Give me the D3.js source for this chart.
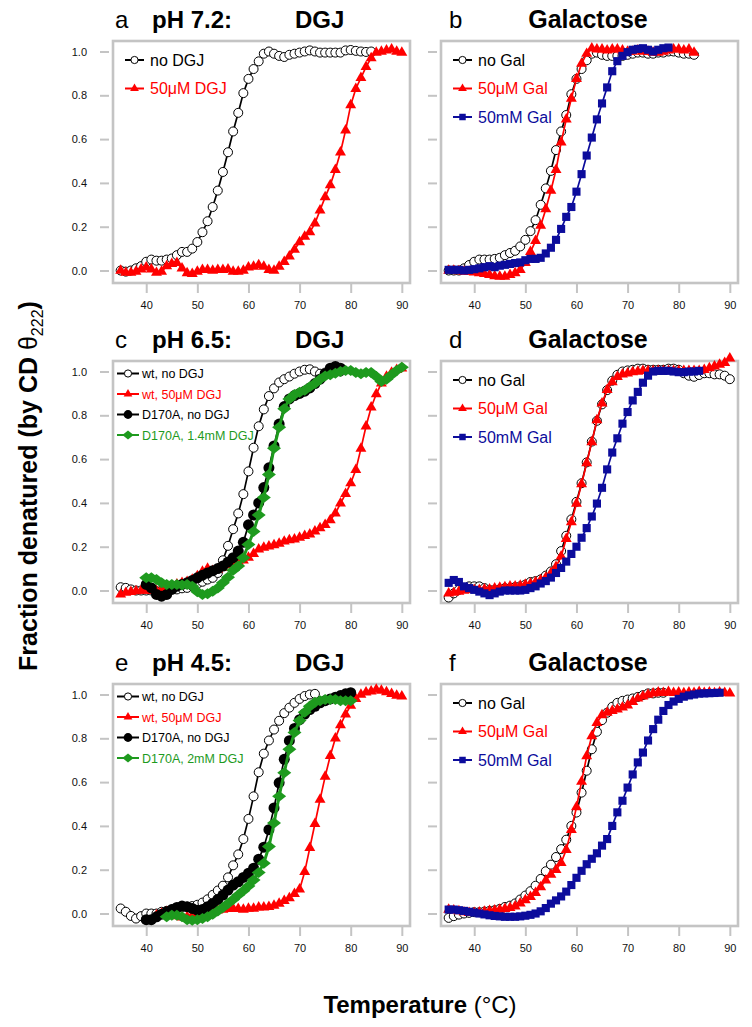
<!DOCTYPE html>
<html>
<head>
<meta charset="utf-8">
<script src="https://cdn.jsdelivr.net/npm/d3@7"></script>
<style>
  body { margin: 0; background: #fff; }
  text { font-family: "Liberation Sans", Arial, Helvetica, sans-serif; }
</style>
</head>
<body>
<div id="chart"></div>
<script>
// ---- data: fraction denatured, one value per degree from the start temperature ----
// a: pH 7.2, DGJ
const aStart = [35, 35];
const aNoDGJ = [0.0, -0.005, 0.0, 0.01, 0.02, 0.04, 0.05, 0.045, 0.045, 0.05,
  0.055, 0.07, 0.085, 0.085, 0.1, 0.13, 0.175, 0.225, 0.29, 0.365,
  0.45, 0.54, 0.635, 0.72, 0.81, 0.875, 0.92, 0.955, 0.99, 1.0,
  0.99, 0.98, 0.975, 0.985, 0.99, 0.995, 1.0, 1.005, 1.0, 0.995,
  0.995, 0.995, 0.995, 0.995, 1.005, 1.007, 1.003, 1.0, 0.998, 1.0];
const a50uM = [0.0, -0.01, -0.01, -0.005, 0.005, 0.015, 0.005, -0.01, -0.005, 0.02,
  0.03, 0.035, 0.01, -0.012, -0.015, -0.005, 0.003, 0.003, 0.0, 0.003,
  0.003, 0.005, -0.005, -0.005, 0.0, 0.015, 0.018, 0.025, 0.018, 0.003,
  0.0, 0.018, 0.04, 0.065, 0.095, 0.13, 0.155, 0.175, 0.215, 0.275,
  0.335, 0.39, 0.46, 0.54, 0.64, 0.755, 0.83, 0.88, 0.93, 0.97,
  0.995, 1.0, 1.005, 1.01, 1.0, 0.995];

// b: pH 7.2, galactose
const bStart = [35, 35, 35];
const bNoGal = [0.0, 0.0, 0.0, 0.01, 0.025, 0.04, 0.05, 0.05, 0.05, 0.053,
  0.058, 0.07, 0.08, 0.09, 0.11, 0.14, 0.18, 0.23, 0.3, 0.375,
  0.455, 0.55, 0.635, 0.71, 0.805, 0.875, 0.92, 0.96, 0.99, 0.995,
  0.985, 0.98, 0.98, 0.98, 0.98, 0.985, 0.99, 0.995, 0.995, 0.99,
  0.99, 0.995, 0.995, 1.0, 1.0, 0.995, 0.99, 0.99, 0.985];
const b50uM = [0.0, 0.0, -0.003, -0.005, -0.005, -0.008, -0.012, -0.015, -0.02, -0.025,
  -0.028, -0.028, -0.02, -0.012, 0.003, 0.035, 0.085, 0.135, 0.205, 0.28,
  0.365, 0.46, 0.585, 0.69, 0.785, 0.875, 0.945, 0.99, 1.015, 1.01,
  1.01, 1.005, 1.01, 1.01, 1.005, 1.0, 1.0, 1.005, 1.0, 1.0,
  0.995, 0.995, 1.0, 1.005, 1.01, 1.01, 1.005, 1.01, 0.995];
const b50mM = [0.003, 0.003, 0.003, 0.0, 0.003, 0.006, 0.01, 0.015, 0.02, 0.015,
  0.022, 0.026, 0.03, 0.034, 0.037, 0.047, 0.053, 0.053, 0.058, 0.078,
  0.104, 0.14, 0.19, 0.245, 0.29, 0.36, 0.44, 0.525, 0.607, 0.69,
  0.763, 0.836, 0.91, 0.956, 0.98, 0.997, 1.008, 1.012, 1.015, 1.008,
  1.0, 1.008, 1.015, 1.018];

// c: pH 6.5, DGJ
const cStart = [35, 35, 40, 40];
const cWtNo = [0.015, 0.012, 0.005, 0.0, 0.0, 0.0, 0.0, -0.003, 0.0, 0.005,
  0.009, 0.005, 0.01, 0.012, 0.02, 0.03, 0.04, 0.05, 0.058, 0.08,
  0.138, 0.204, 0.28, 0.352, 0.44, 0.544, 0.652, 0.75, 0.827, 0.888,
  0.923, 0.95, 0.965, 0.977, 0.99, 1.0, 1.008, 1.01, 1.0, 0.99,
  0.995, 1.0, 1.0, 1.0];
const cWt50uM = [-0.018, -0.01, -0.006, -0.003, 0.0, 0.0, 0.0, -0.003, 0.005, 0.012,
  0.02, 0.028, 0.035, 0.04, 0.05, 0.066, 0.086, 0.1, 0.09, 0.097,
  0.104, 0.116, 0.122, 0.132, 0.138, 0.15, 0.168, 0.188, 0.196, 0.202,
  0.208, 0.214, 0.224, 0.23, 0.234, 0.242, 0.25, 0.257, 0.27, 0.285,
  0.3, 0.322, 0.352, 0.398, 0.441, 0.49, 0.551, 0.648, 0.75, 0.836,
  0.897, 0.946, 0.977, 0.995, 1.008, 1.015];
const cD170ANo = [0.028, 0.012, -0.018, -0.026, -0.018, 0.005, 0.02, 0.028, 0.035, 0.046,
  0.058, 0.07, 0.08, 0.09, 0.1, 0.112, 0.13, 0.15, 0.18, 0.22,
  0.3, 0.345, 0.4, 0.47, 0.56, 0.66, 0.76, 0.84, 0.875, 0.89,
  0.9, 0.91, 0.925, 0.945, 0.965, 0.99, 1.015, 1.023, 1.015];
const cD170A14mM = [0.058, 0.058, 0.05, 0.035, 0.028, 0.028, 0.028, 0.025, 0.028, 0.02,
  -0.006, -0.018, -0.015, -0.003, 0.012, 0.035, 0.061, 0.092, 0.112, 0.15,
  0.21, 0.27, 0.345, 0.425, 0.53, 0.65, 0.745, 0.83, 0.875, 0.895,
  0.905, 0.915, 0.93, 0.945, 0.965, 0.98, 0.985, 0.992, 1.0, 1.005,
  1.005, 0.995, 0.99, 0.995, 0.995, 0.977, 0.954, 0.965, 0.985, 1.005,
  1.02];

// d: pH 6.5, galactose
const dStart = [35, 35, 35];
const dNoGal = [-0.032, -0.013, 0.003, 0.011, 0.019, 0.019, 0.019, 0.011, 0.003, 0.003,
  0.006, 0.011, 0.011, 0.016, 0.019, 0.027, 0.039, 0.043, 0.051, 0.068,
  0.087, 0.12, 0.18, 0.25, 0.325, 0.405, 0.49, 0.585, 0.68, 0.775,
  0.85, 0.915, 0.958, 0.985, 1.0, 1.005, 1.008, 1.013, 1.013, 1.008,
  1.008, 1.008, 1.008, 1.013, 1.013, 1.008, 0.992, 0.981, 0.976, 0.984,
  0.992, 0.992, 0.987, 0.987, 0.981, 0.965];
const d50uM = [-0.013, -0.01, -0.005, 0.0, 0.003, 0.003, 0.003, 0.006, 0.006, 0.01,
  0.013, 0.016, 0.019, 0.019, 0.022, 0.027, 0.032, 0.039, 0.048, 0.059,
  0.08, 0.108, 0.156, 0.236, 0.312, 0.397, 0.486, 0.582, 0.678, 0.778,
  0.855, 0.916, 0.952, 0.976, 0.987, 0.992, 0.997, 1.0, 1.003, 1.003,
  1.003, 1.003, 1.003, 1.003, 1.003, 1.003, 1.003, 1.003, 1.003, 1.003,
  1.008, 1.016, 1.024, 1.032, 1.04, 1.06];
const d50mM = [0.035, 0.048, 0.039, 0.019, 0.011, 0.003, -0.005, -0.013, -0.021, -0.013,
  -0.005, 0.0, 0.0, 0.0, 0.0, 0.003, 0.011, 0.019, 0.032, 0.043,
  0.059, 0.08, 0.103, 0.132, 0.167, 0.2, 0.241, 0.285, 0.338, 0.397,
  0.469, 0.553, 0.63, 0.695, 0.762, 0.815, 0.868, 0.907, 0.949, 0.981,
  1.0, 1.003, 1.003, 1.003, 1.0, 0.997, 0.997, 1.0, 1.0, 1.003];

// e: pH 4.5, DGJ
const eStart = [35, 42, 40, 44];
const eWtNo = [0.023, 0.008, -0.011, -0.023, -0.012, 0.0, 0.0, 0.0, 0.008, 0.012,
  0.018, 0.023, 0.028, 0.031, 0.034, 0.04, 0.05, 0.065, 0.085, 0.105,
  0.127, 0.165, 0.22, 0.27, 0.34, 0.432, 0.535, 0.645, 0.73, 0.79,
  0.84, 0.88, 0.915, 0.94, 0.962, 0.98, 0.993, 1.0, 1.003];
const eWt50uM = [-0.008, 0.0, 0.008, -0.003, -0.012, -0.018, -0.015, -0.008, -0.003, 0.003,
  0.008, 0.012, 0.015, 0.018, 0.021, 0.023, 0.021, 0.018, 0.023, 0.023,
  0.028, 0.028, 0.031, 0.036, 0.045, 0.058, 0.07, 0.09, 0.11, 0.19,
  0.3, 0.41, 0.52, 0.625, 0.72, 0.8, 0.86, 0.91, 0.95, 0.98,
  1.0, 1.01, 1.014, 1.023, 1.018, 1.011, 1.003, 0.995, 0.992];
const eD170ANo = [-0.028, -0.028, -0.015, -0.003, 0.008, 0.018, 0.028, 0.034, 0.031, 0.023,
  0.015, 0.018, 0.031, 0.046, 0.064, 0.084, 0.107, 0.13, 0.145, 0.165,
  0.184, 0.207, 0.248, 0.303, 0.383, 0.482, 0.597, 0.704, 0.789, 0.845,
  0.885, 0.911, 0.931, 0.946, 0.962, 0.972, 0.98, 0.988, 0.995, 1.003,
  1.008];
const eD170A2mM = [-0.015, -0.008, -0.008, -0.015, -0.028, -0.031, -0.028, -0.023, -0.015, -0.003,
  0.012, 0.028, 0.046, 0.064, 0.084, 0.104, 0.126, 0.153, 0.187, 0.23,
  0.306, 0.413, 0.536, 0.643, 0.75, 0.827, 0.881, 0.919, 0.946, 0.965,
  0.972, 0.977, 0.977, 0.977, 0.972, 0.972, 0.972];

// f: pH 4.5, galactose
const fStart = [35, 35, 35];
const fNoGal = [-0.02, -0.012, -0.005, 0.0, 0.003, 0.006, 0.006, 0.009, 0.012, 0.015,
  0.021, 0.03, 0.036, 0.046, 0.064, 0.082, 0.102, 0.127, 0.158, 0.193,
  0.223, 0.258, 0.294, 0.337, 0.4, 0.461, 0.552, 0.652, 0.75, 0.83,
  0.883, 0.917, 0.944, 0.962, 0.971, 0.977, 0.982, 0.989, 0.997, 1.005,
  1.005, 1.008, 1.008];
const f50uM = [0.018, 0.015, 0.011, 0.006, 0.003, 0.003, 0.006, 0.009, 0.012, 0.015,
  0.018, 0.021, 0.026, 0.033, 0.046, 0.061, 0.076, 0.094, 0.121, 0.152,
  0.178, 0.2, 0.231, 0.291, 0.382, 0.486, 0.602, 0.719, 0.81, 0.871,
  0.906, 0.917, 0.926, 0.932, 0.941, 0.951, 0.967, 0.982, 0.992, 1.0,
  1.005, 1.01, 1.008, 1.012, 1.008, 1.01, 1.006, 1.01, 1.008, 1.012,
  1.008, 1.01, 1.006, 1.01, 1.008, 1.005];
const f50mM = [0.018, 0.018, 0.015, 0.012, 0.008, 0.004, 0.0, -0.004, -0.008, -0.011,
  -0.013, -0.015, -0.015, -0.015, -0.013, -0.01, -0.006, 0.0, 0.01, 0.025,
  0.045, 0.06, 0.078, 0.1, 0.13, 0.163, 0.195, 0.225, 0.25, 0.275,
  0.31, 0.34, 0.4, 0.462, 0.515, 0.575, 0.635, 0.69, 0.735, 0.79,
  0.842, 0.885, 0.925, 0.952, 0.968, 0.98, 0.99, 0.996, 1.0, 1.004,
  1.005, 1.006, 1.007, 1.008];

// axes
const xTicks = [40, 50, 60, 70, 80, 90];
const yTicks = [0, 0.2, 0.4, 0.6, 0.8, 1.0];

// legend labels
const dgjLabels = ["no DGJ", "50\u03bcM DGJ"];
const galLabels = ["no Gal", "50\u03bcM Gal", "50mM Gal"];
const mutLabels65 = ["wt, no DGJ", "wt, 50\u03bcM DGJ", "D170A, no DGJ", "D170A, 1.4mM DGJ"];
const mutLabels45 = ["wt, no DGJ", "wt, 50\u03bcM DGJ", "D170A, no DGJ", "D170A, 2mM DGJ"];

// ---- styles ----
const RED = "#ff0000", BLUE = "#0c0c9c", GREEN = "#1e9a1e", BLACK = "#000000";
const GRAY = "#c4c4c4";

const W = 752, H = 1027;
const colLeft = [113, 441];
const rowTop = [41, 361, 684];
const boxW = 297, boxH = 242;

function mk(label, color, mark, start, values) {
    return {label: label, color: color, mark: mark, start: start, values: values};
}

const panels = [
    {letter: "a", col: 0, row: 0, ph: "pH 7.2:", head: "DGJ", small: false,
     series: [mk(dgjLabels[0], BLACK, "open", aStart[0], aNoDGJ),
              mk(dgjLabels[1], RED, "tri", aStart[1], a50uM)]},
    {letter: "b", col: 1, row: 0, head: "Galactose", small: false,
     series: [mk(galLabels[0], BLACK, "open", bStart[0], bNoGal),
              mk(galLabels[1], RED, "tri", bStart[1], b50uM),
              mk(galLabels[2], BLUE, "sq", bStart[2], b50mM)]},
    {letter: "c", col: 0, row: 1, ph: "pH 6.5:", head: "DGJ", small: true,
     series: [mk(mutLabels65[0], BLACK, "open", cStart[0], cWtNo),
              mk(mutLabels65[1], RED, "tri", cStart[1], cWt50uM),
              mk(mutLabels65[2], BLACK, "dot", cStart[2], cD170ANo),
              mk(mutLabels65[3], GREEN, "dia", cStart[3], cD170A14mM)]},
    {letter: "d", col: 1, row: 1, head: "Galactose", small: false,
     series: [mk(galLabels[0], BLACK, "open", dStart[0], dNoGal),
              mk(galLabels[1], RED, "tri", dStart[1], d50uM),
              mk(galLabels[2], BLUE, "sq", dStart[2], d50mM)]},
    {letter: "e", col: 0, row: 2, ph: "pH 4.5:", head: "DGJ", small: true,
     series: [mk(mutLabels45[0], BLACK, "open", eStart[0], eWtNo),
              mk(mutLabels45[1], RED, "tri", eStart[1], eWt50uM),
              mk(mutLabels45[2], BLACK, "dot", eStart[2], eD170ANo),
              mk(mutLabels45[3], GREEN, "dia", eStart[3], eD170A2mM)]},
    {letter: "f", col: 1, row: 2, head: "Galactose", small: false,
     series: [mk(galLabels[0], BLACK, "open", fStart[0], fNoGal),
              mk(galLabels[1], RED, "tri", fStart[1], f50uM),
              mk(galLabels[2], BLUE, "sq", fStart[2], f50mM)]}
];

let svg = d3.select("#chart")
    .append("svg")
    .attr("width", W)
    .attr("height", H);

svg.append("rect").attr("width", W).attr("height", H).attr("fill", "#fff");

// draws one marker of the given kind into a selection
function addMarker(g, kind, color, k) {
    if (kind === "open") {
        return g.append("circle").attr("r", 4.5 * k)
            .attr("fill", "#fff").attr("stroke", "#000").attr("stroke-width", 1);
    }
    if (kind === "dot") {
        return g.append("circle").attr("r", 5.5 * k).attr("fill", color);
    }
    if (kind === "tri") {
        return g.append("path").attr("d", d3.symbol(d3.symbolTriangle, 52 * k * k)())
            .attr("fill", color);
    }
    if (kind === "sq") {
        return g.append("path").attr("d", d3.symbol(d3.symbolSquare, 66 * k * k)())
            .attr("fill", color);
    }
    // wide diamond
    let hw = 7 * k, hh = 5.5 * k;
    return g.append("path").attr("d", `M${-hw},0L0,${-hh}L${hw},0L0,${hh}Z`)
        .attr("fill", color);
}

function drawPanel(p) {
    let left = colLeft[p.col];
    let top = rowTop[p.row];

    let x = d3.scaleLinear().domain([33.5, 91.6]).range([left, left + boxW]);
    let y = d3.scaleLinear().domain([-0.057, 1.048]).range([top + boxH, top]);

    let g = svg.append("g");

    // y axis (labels only in left column)
    let yAxis = d3.axisLeft(y).tickValues(yTicks).tickSize(9).tickPadding(13)
        .tickFormat(p.col === 0 ? d3.format(".1f") : "");
    let ya = g.append("g").attr("transform", `translate(${left - 4},0)`).call(yAxis);
    ya.select(".domain").remove();

    let xAxis = d3.axisBottom(x).tickValues(xTicks).tickSize(9).tickPadding(8);
    let xa = g.append("g").attr("transform", `translate(0,${top + boxH + 1})`).call(xAxis);
    xa.select(".domain").remove();

    [ya, xa].forEach(a => {
        a.selectAll(".tick line").attr("stroke", GRAY).attr("stroke-width", 2);
        a.selectAll(".tick text").attr("fill", "#111").style("font-size", "11px")
            .style("font-family", '"Liberation Sans", Arial, sans-serif');
    });

    // frame
    g.append("rect")
        .attr("x", left).attr("y", top)
        .attr("width", boxW).attr("height", boxH)
        .attr("fill", "none").attr("stroke", GRAY).attr("stroke-width", 2.6);

    // series: line then markers
    let line = d3.line().x(d => x(d[0])).y(d => y(d[1]));
    p.series.forEach(s => {
        let pts = s.values.map((v, i) => [s.start + i, v]);
        g.append("path")
            .attr("d", line(pts))
            .attr("fill", "none")
            .attr("stroke", s.color)
            .attr("stroke-width", s.mark === "dia" ? 3 : 1.7);
        pts.forEach(d => {
            let m = g.append("g").attr("transform", `translate(${x(d[0])},${y(d[1])})`);
            addMarker(m, s.mark, s.color, 1);
        });
    });

    // legend
    let lx0, lx1, tx, rows, fs, mk;
    if (p.small) {
        lx0 = left + 4; lx1 = left + 26; tx = left + 29;
        rows = [12.5, 33, 53.5, 74]; fs = 12.5; mk = 0.8;
    } else {
        lx0 = left + 12; lx1 = left + 31; tx = left + 37;
        rows = [19, 47.5, 76]; fs = 16; mk = 0.8;
    }
    p.series.forEach((s, i) => {
        let cy = top + rows[i];
        g.append("line")
            .attr("x1", lx0).attr("x2", lx1).attr("y1", cy).attr("y2", cy)
            .attr("stroke", s.color).attr("stroke-width", 2);
        let m = g.append("g").attr("transform", `translate(${(lx0 + lx1) / 2},${cy})`);
        addMarker(m, s.mark, s.color, mk);
        g.append("text")
            .attr("x", tx).attr("y", cy + fs * 0.36)
            .attr("fill", s.color)
            .style("font-size", fs + "px")
            .text(s.label);
    });

    // panel heading
    let by = top - 13;
    g.append("text").attr("x", left + (p.col === 0 ? 2 : 8)).attr("y", by)
        .style("font-size", "24px").text(p.letter);
    if (p.ph) {
        g.append("text").attr("x", left + 39).attr("y", by)
            .style("font-size", "24px").style("font-weight", "bold").text(p.ph);
        g.append("text").attr("x", left + 182).attr("y", by)
            .style("font-size", "24px").style("font-weight", "bold").text(p.head);
    } else {
        g.append("text").attr("x", left + 147).attr("y", by)
            .attr("text-anchor", "middle")
            .style("font-size", "25px").style("font-weight", "bold").text(p.head);
    }
}

panels.forEach(drawPanel);

// shared axis titles
let yl = svg.append("text")
    .attr("transform", "translate(37,486) rotate(-90)")
    .attr("text-anchor", "middle")
    .style("font-size", "25px");
yl.append("tspan").style("font-weight", "bold").text("Fraction denatured (by CD ");
yl.append("tspan").text("\u03b8");
yl.append("tspan").attr("dy", 6).style("font-size", "16px").text("222");
yl.append("tspan").attr("dy", -6).style("font-weight", "bold").text(")");

let xl = svg.append("text")
    .attr("x", 420).attr("y", 1013)
    .attr("text-anchor", "middle")
    .style("font-size", "24px");
xl.append("tspan").style("font-weight", "bold").text("Temperature");
xl.append("tspan").text(" (\u00b0C)");
</script>
</body>
</html>
